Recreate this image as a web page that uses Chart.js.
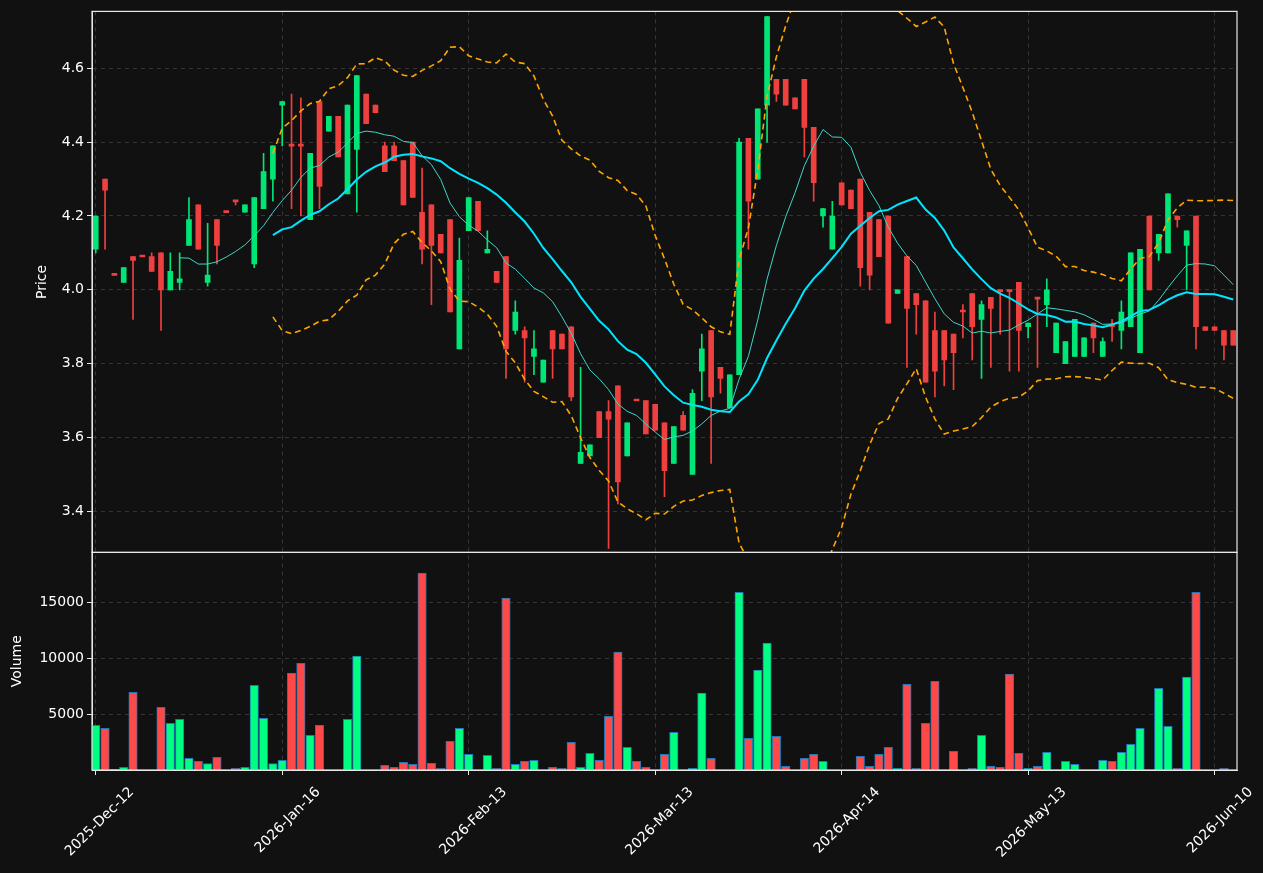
<!DOCTYPE html>
<html>
<head>
<meta charset="utf-8">
<script src="https://cdn.jsdelivr.net/npm/chart.js@4"></script>
<style>
  html, body { margin: 0; padding: 0; background: #111111; }
  canvas { display: block; }
</style>
</head>
<body>
<canvas id="kChart" width="1263" height="873"></canvas>
<script>
// ===== Daten =====
const opens  = [4.11,4.30,4.04,4.02,4.09,4.09,4.09,4.10,4.00,4.02,4.12,4.23,4.02,4.19,4.21,4.24,4.21,4.07,4.22,4.30,
                4.50,4.39,4.39,4.19,4.51,4.43,4.47,4.26,4.38,4.53,4.50,4.39,4.39,4.35,4.40,4.21,4.23,4.15,4.19,3.84,
                4.16,4.24,4.10,4.05,4.09,3.89,3.89,3.82,3.75,3.89,3.88,3.90,3.53,3.55,3.67,3.67,3.74,3.55,3.70,3.70,
                3.69,3.64,3.53,3.66,3.50,3.78,3.89,3.79,3.68,3.77,4.41,4.30,4.50,4.57,4.57,4.52,4.57,4.44,4.20,4.11,
                4.29,4.27,4.30,4.21,4.19,4.20,3.99,4.09,3.99,3.97,3.89,3.89,3.88,3.945,3.99,3.92,3.98,4.00,4.00,4.02,
                3.90,3.98,3.96,3.83,3.80,3.82,3.82,3.91,3.82,3.905,3.89,3.90,3.83,4.20,4.10,4.10,4.20,4.12,4.20,3.90,
                3.90,3.89,3.89];
const highs  = [4.20,4.30,4.04,4.06,4.09,4.09,4.10,4.10,4.10,4.10,4.25,4.23,4.18,4.19,4.21,4.24,4.23,4.25,4.37,4.39,
                4.51,4.53,4.52,4.37,4.51,4.47,4.47,4.50,4.58,4.53,4.50,4.40,4.40,4.35,4.40,4.33,4.23,4.15,4.19,4.14,
                4.25,4.24,4.16,4.05,4.09,3.97,3.90,3.89,3.81,3.89,3.88,3.90,3.79,3.58,3.67,3.70,3.74,3.64,3.70,3.70,
                3.69,3.64,3.63,3.67,3.73,3.88,3.89,3.79,3.77,4.41,4.41,4.49,4.74,4.57,4.57,4.52,4.57,4.44,4.22,4.24,
                4.29,4.27,4.30,4.21,4.19,4.20,4.00,4.09,3.99,3.97,3.94,3.89,3.88,3.96,3.99,3.97,3.98,4.00,4.00,4.02,
                3.91,3.98,4.03,3.91,3.86,3.92,3.87,3.91,3.87,3.92,3.97,4.10,4.11,4.20,4.15,4.26,4.20,4.16,4.20,3.90,
                3.90,3.89,3.89];
const lows   = [4.10,4.11,4.04,4.02,3.92,4.09,4.05,3.89,4.00,4.00,4.12,4.11,4.01,4.07,4.21,4.23,4.21,4.06,4.22,4.24,
                4.39,4.22,4.20,4.19,4.22,4.43,4.36,4.26,4.21,4.45,4.48,4.32,4.35,4.23,4.25,4.07,3.96,4.10,3.94,3.84,
                4.16,4.16,4.10,4.02,3.76,3.88,3.75,3.77,3.75,3.76,3.84,3.70,3.53,3.55,3.60,3.30,3.42,3.55,3.70,3.61,
                3.62,3.44,3.53,3.62,3.50,3.70,3.53,3.72,3.68,3.77,4.11,4.30,4.40,4.51,4.50,4.49,4.36,4.24,4.17,4.11,
                4.23,4.22,4.01,4.00,4.09,3.91,3.99,3.79,3.88,3.75,3.71,3.74,3.73,3.87,3.81,3.76,3.79,3.88,3.78,3.78,
                3.87,3.79,3.90,3.83,3.80,3.82,3.82,3.83,3.82,3.86,3.84,3.90,3.83,4.00,4.08,4.10,4.17,4.00,3.84,3.89,
                3.89,3.81,3.85];
const closes = [4.20,4.27,4.039,4.06,4.08,4.089,4.05,4.00,4.05,4.03,4.19,4.11,4.04,4.12,4.209,4.238,4.23,4.25,4.32,4.39,
                4.51,4.389,4.389,4.37,4.28,4.47,4.36,4.50,4.58,4.45,4.48,4.32,4.35,4.23,4.25,4.11,4.12,4.10,3.94,4.08,
                4.25,4.16,4.11,4.02,3.84,3.94,3.87,3.84,3.81,3.84,3.84,3.71,3.56,3.58,3.60,3.65,3.48,3.64,3.699,3.61,
                3.62,3.51,3.63,3.62,3.72,3.84,3.71,3.76,3.77,4.40,4.24,4.49,4.74,4.53,4.50,4.49,4.44,4.29,4.22,4.20,
                4.23,4.22,4.06,4.04,4.09,3.91,4.00,3.95,3.96,3.75,3.78,3.81,3.83,3.94,3.90,3.96,3.95,3.995,3.995,3.89,
                3.91,3.975,4.00,3.91,3.86,3.92,3.87,3.87,3.86,3.90,3.94,4.10,4.11,4.00,4.15,4.26,4.19,4.16,3.90,3.89,
                3.89,3.85,3.85];
const volumes = [4000,3730,60,240,6955,0,0,5610,4180,4540,1045,776,567,1134,0,150,240,7580,4630,567,
                 866,8660,9550,3100,4000,0,0,4540,10180,0,0,420,240,690,510,17600,600,150,2570,3730,
                 1400,0,1310,150,15370,510,776,866,0,240,150,2480,240,1490,866,4800,10540,2030,776,240,
                 0,1400,3370,0,150,6870,1045,0,0,15900,2840,8930,11340,3015,330,0,1045,1400,776,0,
                 0,0,1224,330,1400,2030,150,7670,150,4180,7940,0,1670,0,150,3100,330,240,8570,1490,
                 150,330,1580,0,776,510,0,0,866,776,1580,2300,3730,0,7310,3910,150,8300,15900,0,
                 0,150,0];

const tickIndex  = [0, 20, 40, 60, 80, 100, 120];
const tickLabels = ['2025-Dec-12','2026-Jan-16','2026-Feb-13','2026-Mar-13','2026-Apr-14','2026-May-13','2026-Jun-10'];
const priceTicks = [3.4, 3.6, 3.8, 4.0, 4.2, 4.4, 4.6];
const volTicks   = [5000, 10000, 15000];

// ===== Indikatoren: gleitende Durchschnitte + Bollinger =====
function sma(werte, n) {
  return werte.map((_, i) => {
    if (i < n - 1) return null;
    let s = 0;
    for (let k = i - n + 1; k <= i; k++) s += werte[k];
    return s / n;
  });
}
function stdAbw(werte, n) {
  const m = sma(werte, n);
  return werte.map((_, i) => {
    if (m[i] === null) return null;
    let s = 0;
    for (let k = i - n + 1; k <= i; k++) s += (werte[k] - m[i]) ** 2;
    return Math.sqrt(s / (n - 1));
  });
}
const ma10 = sma(closes, 10);
const ma20 = sma(closes, 20);
const sd20 = stdAbw(closes, 20);
const bbOben  = ma20.map((m, i) => m === null ? null : m + 2 * sd20[i]);
const bbUnten = ma20.map((m, i) => m === null ? null : m - 2 * sd20[i]);

const GRUEN = '#00e676', ROT = '#ef4040';
const VGRUEN = '#00ff80', VROT = '#ff4848';
const istGruen = closes.map((c, i) => c >= opens[i]);

const koerper = opens.map((o, i) => ({ x: i, y: [o, closes[i]] }));
const dochte  = opens.map((o, i) => ({ x: i, y: [lows[i], highs[i]] }));
const volPunkte = volumes.map((v, i) => ({ x: i, y: v }));
const linie = arr => arr.map((v, i) => ({ x: i, y: v }));

// Rahmen um beide Panels
const rahmenPlugin = {
  id: 'rahmen',
  afterDraw(chart) {
    const { ctx, scales } = chart;
    const l = scales.x.left, r = scales.x.right;
    ctx.save();
    ctx.strokeStyle = '#e8e8e8';
    ctx.lineWidth = 1.2;
    ctx.strokeRect(l, scales.y.top, r - l, scales.y.bottom - scales.y.top);
    ctx.strokeRect(l, scales.yv.top, r - l, scales.yv.bottom - scales.yv.top);
    ctx.restore();
  }
};

const gitter = { color: '#363636', tickColor: '#e8e8e8', tickLength: 5, offset: false };
const rand = { color: '#e8e8e8', dash: [4, 4] };
const schrift = { family: 'DejaVu Sans', size: 14 };

new Chart(document.getElementById('kChart'), {
  type: 'bar',
  data: {
    datasets: [
      { type: 'line', data: linie(ma10), xAxisID: 'x', yAxisID: 'y', borderColor: '#3fd6c8', borderWidth: 1, pointRadius: 0, order: 0 },
      { type: 'line', data: linie(ma20), xAxisID: 'x', yAxisID: 'y', borderColor: '#00e5ff', borderWidth: 2, pointRadius: 0, order: 0 },
      { type: 'line', data: linie(bbOben), xAxisID: 'x', yAxisID: 'y', borderColor: '#ffa500', borderWidth: 1.6, borderDash: [6, 4], pointRadius: 0, order: 0 },
      { type: 'line', data: linie(bbUnten), xAxisID: 'x', yAxisID: 'y', borderColor: '#ffa500', borderWidth: 1.6, borderDash: [6, 4], pointRadius: 0, order: 0 },
      { data: dochte, xAxisID: 'x', yAxisID: 'y', barThickness: 1, grouped: false, minBarLength: 1,
        backgroundColor: istGruen.map(g => g ? GRUEN : ROT), order: 3 },
      { data: koerper, xAxisID: 'x', yAxisID: 'y', barThickness: 5, grouped: false, minBarLength: 2,
        backgroundColor: istGruen.map(g => g ? GRUEN : ROT), order: 2 },
      { data: volPunkte, xAxisID: 'x', yAxisID: 'yv', barThickness: 8.5, grouped: false,
        backgroundColor: istGruen.map(g => g ? VGRUEN : VROT), borderColor: '#1f77b4', borderWidth: 1, borderSkipped: false, order: 2 }
    ]
  },
  options: {
    responsive: false,
    animation: false,
    devicePixelRatio: 1,
    layout: { padding: { left: 8, right: 26, top: 10, bottom: 4 } },
    plugins: { legend: { display: false }, tooltip: { enabled: false } },
    scales: {
      x: {
        type: 'linear', min: -0.4, max: 122.4, offset: false,
        afterBuildTicks: s => { s.ticks = tickIndex.map(v => ({ value: v })); },
        afterFit: s => { s.height = 99; },
        ticks: { color: '#ffffff', font: schrift, minRotation: 45, maxRotation: 45,
                 labelOffset: 36, padding: 9,
                 callback: v => tickLabels[tickIndex.indexOf(v)] },
        grid: gitter, border: rand
      },
      yv: {
        type: 'linear', position: 'left', stack: 'panes', stackWeight: 218,
        min: 0, max: 19460,
        afterBuildTicks: s => { s.ticks = volTicks.map(v => ({ value: v })); },
        afterFit: s => { s.width = 84; },
        ticks: { color: '#ffffff', font: schrift, callback: v => String(v) },
        title: { display: true, text: 'Volume', color: '#ffffff', font: schrift, padding: { top: 1, bottom: 0 } },
        grid: gitter, border: rand
      },
      y: {
        type: 'linear', position: 'left', stack: 'panes', stackWeight: 542,
        min: 3.289, max: 4.754,
        afterBuildTicks: s => { s.ticks = priceTicks.map(v => ({ value: v })); },
        afterFit: s => { s.width = 84; },
        ticks: { color: '#ffffff', font: schrift, callback: v => v.toFixed(1) },
        title: { display: true, text: 'Price', color: '#ffffff', font: schrift, padding: { top: 26, bottom: 0 } },
        grid: gitter, border: rand
      }
    }
  },
  plugins: [rahmenPlugin]
});
</script>
</body>
</html>
